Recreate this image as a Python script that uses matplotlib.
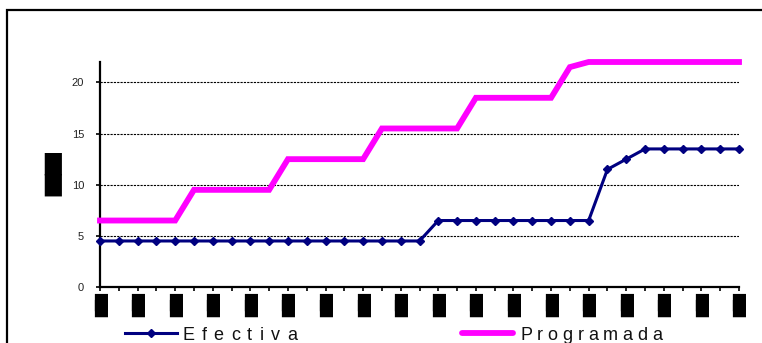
import matplotlib

matplotlib.use("Agg")
import matplotlib.pyplot as plt  # noqa: E402
from matplotlib.lines import Line2D  # noqa: E402
from matplotlib.patches import Rectangle  # noqa: E402
from matplotlib.transforms import IdentityTransform  # noqa: E402

# --- data ------------------------------------------------------------------
n_points = 35
efectiva = [4.5] * 18 + [6.5] * 9 + [11.5, 12.5] + [13.5] * 6
programada = [6.5] * 5 + [9.5] * 5 + [12.5] * 5 + [15.5] * 5 + [18.5] * 5 + [21.5] + [22] * 9
y_ticks = [0, 5, 10, 15, 20]
block = "\u2588"  # category labels render as solid boxes in the source
tall_block = block + "\n" + block

W, H = 762, 343
NAVY = "#000080"
MAGENTA = "#FF00FF"


def px(x, y):
    """pixel (top-left origin) -> figure fraction"""
    return x / W, 1 - y / H


def spaced_text(fig, x, y, s, track, **kw):
    """draw s char by char from pixel x (baseline at pixel y) with extra tracking"""
    renderer = fig.canvas.get_renderer()
    for ch in s:
        t = fig.text(x, H - y, ch, transform=IdentityTransform(), va="baseline", **kw)
        x += t.get_window_extent(renderer).width + track


fig = plt.figure(figsize=(W / 100, H / 100), dpi=100)
fig.patch.set_facecolor("white")

x0, y0 = px(100, 287)
x1, y1 = px(739, 62)
ax = fig.add_axes([x0, y0, x1 - x0, y1 - y0])

xs = list(range(n_points))
ax.plot(xs, programada, color=MAGENTA, lw=4.2, solid_joinstyle="miter", zorder=3, clip_on=False)
ax.plot(xs, efectiva, color=NAVY, lw=2.2, marker="D", ms=4.5, zorder=4, clip_on=False)

ax.set_xlim(0, n_points - 1)
ax.set_ylim(0, 22)
ax.set_yticks(y_ticks)
ax.set_yticklabels([str(v) for v in y_ticks], fontsize=8, family="Liberation Sans", color="#222222")
ax.set_xticks(xs)
ax.set_xticklabels([tall_block if i % 2 == 0 else "" for i in xs], fontsize=12,
                   family="DejaVu Sans", linespacing=0.18)
ax.tick_params(axis="both", direction="out", length=3, width=1.2, color="black")
ax.tick_params(axis="x", pad=1)
ax.tick_params(axis="y", pad=8.5)

for v in y_ticks[1:]:
    ax.axhline(v, color="black", lw=0.8, ls=(0, (2, 1)), zorder=1)

for side in ("top", "right"):
    ax.spines[side].set_visible(False)
for side in ("left", "bottom"):
    ax.spines[side].set_linewidth(1.6)
    ax.spines[side].set_color("black")

# y-axis title (solid box in the source)
fig.text(*px(52.5, 174.5), tall_block, ha="center", va="center",
         fontsize=15.7, linespacing=0.94, family="DejaVu Sans")

# outer chart border
bx, by = px(7, 10)
fig.add_artist(Rectangle((bx, -0.05), 1.2, by + 0.05, transform=fig.transFigure,
                         fill=False, ec="black", lw=1.6))

# legend
ly = 1 - 333 / H
fig.add_artist(Line2D([125 / W, 177 / W], [ly, ly], color=NAVY, lw=2.2))
fig.add_artist(Line2D([151 / W], [ly], color=NAVY, marker="D", ms=4.5))
fig.add_artist(Line2D([462 / W, 513 / W], [ly, ly], color=MAGENTA, lw=4.2, solid_capstyle="round"))
spaced_text(fig, 182, 339.5, "Efectiva", 7.3, fontsize=13, family="Liberation Sans", color="#111111")
spaced_text(fig, 520, 339.5, "Programada", 4.8, fontsize=13, family="Liberation Sans", color="#111111")

fig.savefig("out.png", dpi=100)
